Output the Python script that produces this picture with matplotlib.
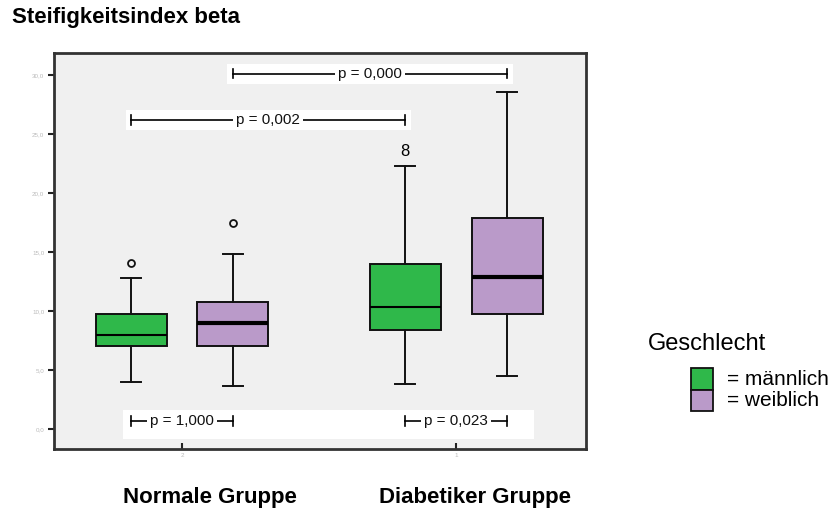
import matplotlib
matplotlib.use('Agg')
import matplotlib.pyplot as plt
from matplotlib.patches import Rectangle

plt.rcParams['font.family'] = ['Liberation Sans', 'DejaVu Sans']

# data
groups = ['Normale Gruppe', 'Diabetiker Gruppe']
group_codes = ['2', '1']

male_whislo = [3.96, 3.79]
male_q1 = [7.03, 8.39]
male_med = [7.99, 10.36]
male_q3 = [9.72, 13.98]
male_whishi = [12.77, 22.26]
male_fliers = [[14.04], []]

female_whislo = [3.64, 4.47]
female_q1 = [7.03, 9.75]
female_med = [8.96, 12.86]
female_q3 = [10.74, 17.88]
female_whishi = [14.83, 28.56]
female_fliers = [[17.43], []]

case_label = '8'
case_value = 23.5

p_labels = ['p = 1,000', 'p = 0,023', 'p = 0,002', 'p = 0,000']
p_from = [0, 2, 0, 1]   # box index: 0 NM, 1 NF, 2 DM, 3 DF
p_to = [1, 3, 2, 3]
p_level = [0.68, 0.68, 26.2, 30.1]

yticks = [0, 5, 10, 15, 20, 25, 30]

green = '#2fb84a'
purple = '#ba9ac9'

W, H = 833, 511
fig = plt.figure(figsize=(W / 100, H / 100), dpi=100)
ax = fig.add_axes([54 / W, 1 - 449 / H, (586 - 54) / W, (449 - 53) / H])
ax.set_facecolor('#f0f0f0')

offset = 0.186
bw = 0.259
centers = [1, 2]
positions = []
for c in centers:
    positions += [c - offset, c + offset]

stats = []
for i in range(2):
    stats.append(dict(whislo=male_whislo[i], q1=male_q1[i], med=male_med[i],
                      q3=male_q3[i], whishi=male_whishi[i], fliers=male_fliers[i]))
    stats.append(dict(whislo=female_whislo[i], q1=female_q1[i], med=female_med[i],
                      q3=female_q3[i], whishi=female_whishi[i], fliers=female_fliers[i]))

bp = ax.bxp(stats, positions=positions, widths=bw, patch_artist=True,
            capwidths=0.075, manage_ticks=False,
            boxprops=dict(linewidth=1.4, edgecolor='#111111'),
            whiskerprops=dict(linewidth=1.4, color='#111111'),
            capprops=dict(linewidth=1.4, color='#111111'),
            flierprops=dict(marker='o', markersize=5, markerfacecolor='none',
                            markeredgecolor='#111111', markeredgewidth=1.3))
for k, box in enumerate(bp['boxes']):
    box.set_facecolor(green if k % 2 == 0 else purple)
for k, med in enumerate(bp['medians']):
    med.set_color('black')
    med.set_linewidth(1.5 if k % 2 == 0 else 3)

ax.text(positions[2], case_value, case_label, ha='center', va='center', fontsize=12)

# white label backgrounds
ax.add_patch(Rectangle((positions[0] - 0.03, -0.85), 1.5, 2.45, facecolor='white',
                       edgecolor='none', zorder=1))
for i in range(2, 4):
    x0 = positions[p_from[i]] - 0.02
    x1 = positions[p_to[i]] + 0.02
    ax.add_patch(Rectangle((x0, p_level[i] - 0.85), x1 - x0, 1.7, facecolor='white',
                           edgecolor='none', zorder=1))

for i, lab in enumerate(p_labels):
    x0 = positions[p_from[i]]
    x1 = positions[p_to[i]]
    y = p_level[i]
    ax.plot([x0, x1], [y, y], color='black', lw=1.2, zorder=2)
    ax.plot([x0, x0], [y - 0.4, y + 0.4], color='black', lw=1.2, zorder=2)
    ax.plot([x1, x1], [y - 0.4, y + 0.4], color='black', lw=1.2, zorder=2)
    ax.text((x0 + x1) / 2, y, lab, ha='center', va='center', fontsize=11, zorder=3,
            color='#111111', bbox=dict(facecolor='white', edgecolor='none', pad=2))

ax.set_xlim(0.533, 2.474)
ax.set_ylim(-1.69, 31.86)
ax.set_yticks(yticks)
ax.set_yticklabels([f'{v:.1f}'.replace('.', ',') for v in yticks], fontsize=4.5,
                   color='#bbbbbb')
ax.set_xticks(centers)
ax.set_xticklabels(group_codes, fontsize=4.5, color='#bbbbbb')
ax.tick_params(axis='both', length=4, width=1.5, color='#222222', pad=3)
ax.tick_params(axis='x', direction='in')
for s in ax.spines.values():
    s.set_linewidth(2)
    s.set_color('#333333')

fig.text(12 / W, 1 - 23 / H, 'Steifigkeitsindex beta', fontsize=16, fontweight='bold',
         va='baseline', ha='left')
fig.text(210 / W, 1 - 503 / H, groups[0], fontsize=16, fontweight='bold',
         va='baseline', ha='center')
fig.text(475 / W, 1 - 503 / H, groups[1], fontsize=16, fontweight='bold',
         va='baseline', ha='center')

# legend
fig.text(648 / W, 1 - 350 / H, 'Geschlecht', fontsize=17, va='baseline', ha='left')
for j, (col, lab) in enumerate([(green, '= männlich'), (purple, '= weiblich')]):
    top = 368 + 21.5 * j
    fig.patches.append(Rectangle((691 / W, 1 - (top + 21.5) / H), 22 / W, 21.5 / H,
                                 facecolor=col, edgecolor='#111111', lw=1.3,
                                 transform=fig.transFigure, figure=fig))
    fig.text(727 / W, 1 - (top + 11) / H, lab, fontsize=15, va='center', ha='left')

fig.savefig('out.png', dpi=100)
